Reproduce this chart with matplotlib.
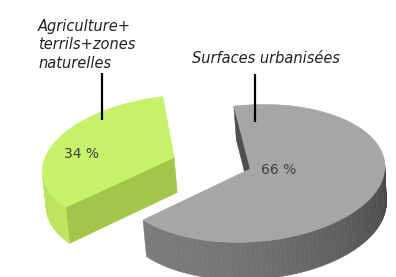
import numpy as np
import matplotlib
matplotlib.use("Agg")
import matplotlib.pyplot as plt
from matplotlib.patches import Polygon
from matplotlib.colors import to_rgb

# données
categories = ["Surfaces urbanisées", "Agriculture+\nterrils+zones\nnaturelles"]
values = [66, 34]
pct_labels = ["66 %", "34 %"]
explode = [0.12, 0.5]

# couleurs : dessus, paroi claire, paroi sombre, coupe
top_colors = ["#a6a6a6", "#c8f16a"]
wall_light = ["#7a7a7a", "#c0e55e"]
wall_dark = ["#3a3a3a", "#94b93e"]
cut_colors = ["#4f4f4f", "#a1c649"]

# caméra (camembert 3D en perspective)
ELEV, DIST, FOCAL = 23.4, 13.67, 1828
CX, CY, KY, ROLL = 235.3, 166.6, 1.275, -4.25
START = 94.9
DEPTH = 0.228
LIGHT = -135

def proj(u, v, z):
    e = np.radians(ELEV)
    dep = v*np.cos(e) - z*np.sin(e) + DIST
    a = FOCAL*u/dep
    b = -FOCAL*KY*(v*np.sin(e) + z*np.cos(e))/dep
    r = np.radians(ROLL)
    return np.c_[CX + a*np.cos(r) - b*np.sin(r), CY + a*np.sin(r) + b*np.cos(r)]

def depth(u, v, z):
    e = np.radians(ELEV)
    return np.mean(v*np.cos(e) - z*np.sin(e) + DIST)

def visible(px, py, nx, ny):
    e = np.radians(ELEV)
    camx, camy = 0.0, -DIST*np.cos(e)
    return nx*(camx - px) + ny*(camy - py) > 0

def mix(c1, c2, t):
    c1, c2 = np.array(to_rgb(c1)), np.array(to_rgb(c2))
    return tuple(c2 + (c1 - c2)*t)

fig = plt.figure(figsize=(3.96, 2.77), dpi=100)
ax = fig.add_axes([0, 0, 1, 1])
ax.set_xlim(0, 396)
ax.set_ylim(277, 0)
ax.axis('off')

slices = []
cum = 0
for i, val in enumerate(values):
    t1 = START - cum
    t0 = t1 - 360*val/sum(values)
    cum += 360*val/sum(values)
    mid = np.radians((t0 + t1)/2)
    ox, oy = explode[i]*np.cos(mid), explode[i]*np.sin(mid)
    slices.append((i, t0, t1, ox, oy))

# le plus éloigné d'abord
slices.sort(key=lambda s: -s[4])

for i, t0, t1, ox, oy in slices:
    th = np.radians(np.linspace(t0, t1, 120))
    rx, ry = ox + np.cos(th), oy + np.sin(th)
    faces = []
    # paroi extérieure
    for k in range(len(th)-1):
        tm = (th[k] + th[k+1])/2
        px, py = ox + np.cos(tm), oy + np.sin(tm)
        if not visible(px, py, np.cos(tm), np.sin(tm)):
            continue
        u = np.array([rx[k], rx[k+1], rx[k+1], rx[k]])
        v = np.array([ry[k], ry[k+1], ry[k+1], ry[k]])
        z = np.array([0, 0, -DEPTH, -DEPTH])
        t = 0.5*(1 + np.cos(tm - np.radians(LIGHT)))
        faces.append((depth(u, v, z), proj(u, v, z), mix(wall_light[i], wall_dark[i], t)))
    # faces de coupe
    for ang, sgn in ((t0, -1), (t1, 1)):
        a = np.radians(ang)
        nx, ny = np.cos(a + sgn*np.pi/2), np.sin(a + sgn*np.pi/2)
        px, py = ox + 0.5*np.cos(a), oy + 0.5*np.sin(a)
        if not visible(px, py, nx, ny):
            continue
        u = np.array([ox, ox + np.cos(a), ox + np.cos(a), ox])
        v = np.array([oy, oy + np.sin(a), oy + np.sin(a), oy])
        z = np.array([0, 0, -DEPTH, -DEPTH])
        faces.append((depth(u, v, z), proj(u, v, z), cut_colors[i]))
    faces.sort(key=lambda f: -f[0])
    for _, pts, col in faces:
        ax.add_patch(Polygon(pts, closed=True, fc=col, ec=col, lw=0.4))
    top = proj(np.r_[ox, rx], np.r_[oy, ry], np.zeros(len(rx)+1))
    ax.add_patch(Polygon(top, closed=True, fc=top_colors[i], ec=top_colors[i], lw=0.4))

# étiquettes
label_pos = [(279, 170), (81, 154)]
for i, (x, y) in enumerate(label_pos):
    ax.text(x, y, pct_labels[i], ha='center', va='center', fontsize=10, color='#404040')

ax.text(38, 68, categories[1], ha='left', va='baseline', fontsize=10.5, style='italic',
        color='#222222', linespacing=1.3)
ax.text(266, 63, categories[0], ha='center', va='baseline', fontsize=10.5, style='italic',
        color='#222222')
ax.plot([101.7, 101.7], [73, 120], color='black', lw=1.6, solid_capstyle='butt')
ax.plot([255, 255], [74, 122], color='black', lw=1.6, solid_capstyle='butt')

fig.savefig("out.png", dpi=100)
